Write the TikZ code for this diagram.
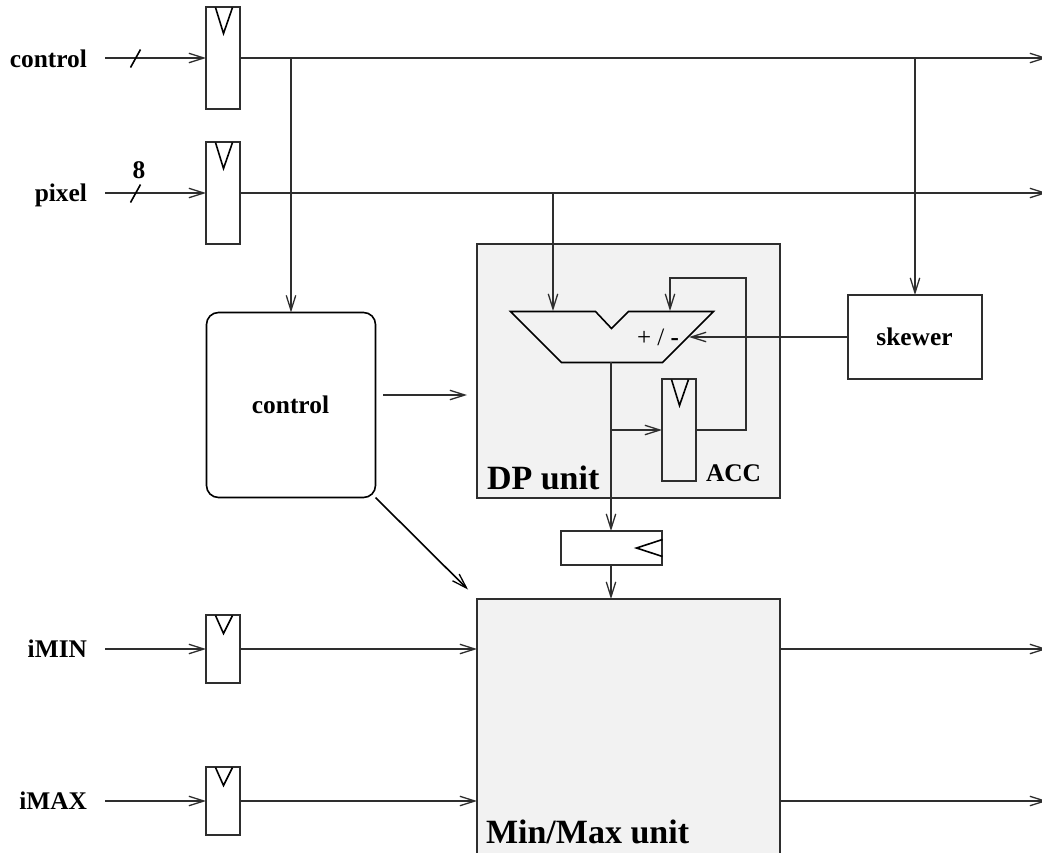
\documentclass[tikz,border=0pt]{standalone}
\usepackage{fontspec}
\setmainfont{Liberation Serif}
\usetikzlibrary{arrows.meta}
\colorlet{ink}{black!82}
\tikzset{
  x=1pt,y=-1pt,
  conn/.style={draw=ink,-{Straight Barb[length=15pt,width=9.5pt,line width=1.3pt]}},
  boxnode/.style={draw=ink,inner sep=0pt,outer sep=0pt,minimum width=#1},
  shaded/.style={fill=black!5},
  thinline/.style={draw=black,line width=1.6pt},
  lab/.style={font=\bfseries\fontsize{25.4}{26}\selectfont,inner sep=0pt},
  biglab/.style={font=\bfseries\fontsize{34}{34}\selectfont,inner sep=0pt,anchor=base west},
}
\newcommand{\rbox}[6][]{\node[boxnode=#5pt,minimum height=#6pt,anchor=north west,#1] (#2) at (#3,#4) {};}
\begin{document}
\begin{tikzpicture}[line width=2pt]
\useasboundingbox (0,0) rectangle (1042,852);
% shaded units
\rbox[shaded]{dp}{477}{244}{303}{254}
\rbox[shaded]{mm}{477}{599}{303}{260}
% registers
\rbox{rc}{206}{7}{34}{102}
\rbox{rp}{206}{142}{34}{102}
\rbox{rmin}{206}{615}{34}{68}
\rbox{rmax}{206}{767}{34}{68}
\rbox{acc}{662}{379}{34}{102}
\rbox{rout}{561}{531}{101}{34}
\rbox{skew}{848}{295}{134}{84}
\rbox[rounded corners=12pt,thinline]{ctl}{206.5}{312.5}{169}{185}
% clock triangles
\draw[thinline] (215.5,7.5)--(223.5,33.5)--(232.5,7.5);
\draw[thinline] (215.5,142.5)--(223.5,168.5)--(232.5,142.5);
\draw[thinline] (215.5,615.5)--(223.5,633.5)--(232.5,615.5);
\draw[thinline] (215.5,767.5)--(223.5,785.5)--(232.5,767.5);
\draw[thinline] (671.5,379.5)--(679.5,405.5)--(688.5,379.5);
\draw[thinline] (662.5,539.5)--(636.5,548)--(662.5,556.5);
% ALU
\draw[thinline] (510.5,311.5)--(595.5,311.5)--(611.5,328.5)--(628.5,311.5)--(713.5,311.5)--(662.5,362.5)--(561.5,362.5)--cycle;
\coordinate (alua) at (553,311);
\coordinate (alub) at (670,311);
\coordinate (aluc) at (689,337);
\coordinate (aluo) at (611,362);
% labels
\node[lab,anchor=base east] (lc) at (88,67) {control};
\node[lab,anchor=base east] (lp) at (88,201.5) {pixel};
\node[lab,anchor=base east] (lmin) at (88,657.5) {iMIN};
\node[lab,anchor=base east] (lmax) at (88,809.5) {iMAX};
\node[lab] (l8) at (139,170) {8};
\node[lab,anchor=base] (tctl) at (290.5,413) {control};
\node[lab,anchor=base] (tskew) at (914.5,345) {skewer};
\node[lab,anchor=base west] (tacc) at (705,481) {ACC};
\node[biglab] (tdp) at (486,489) {DP unit};
\node[biglab] (tmm) at (485,843) {Min/Max unit};
\node[inner sep=0pt,anchor=base west,font=\fontsize{25}{25}\selectfont] (tpm) at (636,345.5) {+ / \textbf{-}};
% free ends and branch points
\coordinate (ic) at (105,58);
\coordinate (ip) at (105,193);
\coordinate (imin) at (105,649);
\coordinate (imax) at (105,801);
\coordinate (oc) at (1047,58);
\coordinate (op) at (1047,193);
\coordinate (omin) at (1047,649);
\coordinate (omax) at (1047,801);
\coordinate (bc1) at (291,58);
\coordinate (bp1) at (553,193);
\coordinate (bc2) at (915,58);
\coordinate (bout) at (611,430);
\coordinate (fb1) at (746,430);
\coordinate (fb2) at (746,278);
\coordinate (fb3) at (670,278);
\coordinate (cd1) at (383,395);
\coordinate (cd2) at (467,395);
\coordinate (cm1) at (375.5,497.5);
\coordinate (cm2) at (468,589.5);
\coordinate (s1a) at (130.5,67.5);
\coordinate (s1b) at (140.5,49.5);
\coordinate (s2a) at (130.5,202.5);
\coordinate (s2b) at (140.5,184.5);
% connectors
\draw[conn] (ic)--(rc.west);
\draw[thinline] (s1a)--(s1b);
\draw[conn] (ip)--(rp.west);
\draw[thinline] (s2a)--(s2b);
\draw[conn] (rc.east)--(oc);
\draw[conn] (rp.east)--(op);
\draw[conn] (bc1)--(bc1|-ctl.north);
\draw[conn] (bp1)--(alua);
\draw[conn] (bc2)--(bc2|-skew.north);
\draw[conn] (aluc-|skew.west)--(aluc);
\draw[conn] (aluo)--(aluo|-rout.north);
\draw[conn] (bout)--(acc.west);
\draw[conn] (acc.east)--(fb1)--(fb2)--(fb3)--(alub);
\draw[conn] (aluo|-rout.south)--(aluo|-mm.north);
\draw[conn] (cd1)--(cd2);
\draw[conn,thinline] (cm1)--(cm2);
\draw[conn] (imin)--(rmin.west);
\draw[conn] (imax)--(rmax.west);
\draw[conn] (rmin.east)--(imin-|mm.west);
\draw[conn] (rmax.east)--(imax-|mm.west);
\draw[conn] (imin-|mm.east)--(omin);
\draw[conn] (imax-|mm.east)--(omax);
\end{tikzpicture}
\end{document}
